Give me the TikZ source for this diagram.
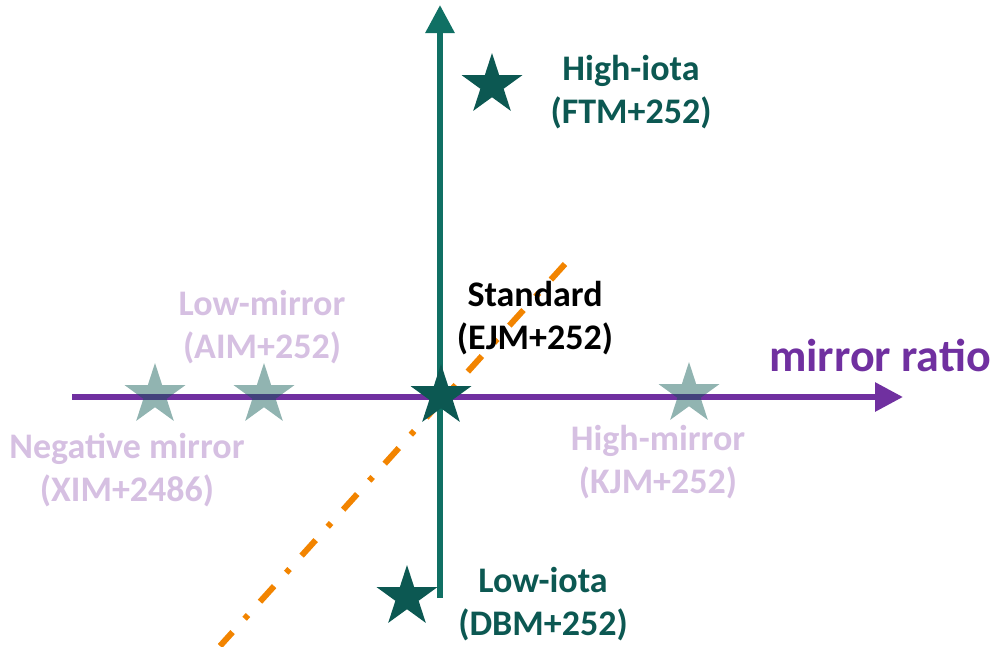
\documentclass[tikz,border=0pt]{standalone}
\usepackage{fontspec}
\setmainfont{Carlito}
\usetikzlibrary{arrows.meta,shapes.geometric}
\definecolor{axisteal}{RGB}{16,112,100}
\definecolor{stardark}{RGB}{12,88,82}
\definecolor{mpurple}{RGB}{112,48,160}
\definecolor{lav}{RGB}{214,192,226}
\definecolor{dorange}{RGB}{242,132,0}
\tikzset{
  mystar/.style={star, star points=5, star point ratio=2.618, minimum size=64pt, inner sep=0pt, draw=none, fill=stardark},
  fadestar/.style={mystar, fill opacity=0.45},
  lbl/.style={font=\bfseries\fontsize{36}{43}\selectfont, align=center, inner sep=0pt},
  axis/.style={line width=6pt, -{Triangle[length=28pt,width=28pt]}},
}
\begin{document}
\begin{tikzpicture}[x=1pt,y=-1pt]
\useasboundingbox (0,0) rectangle (999,646);
% orange dash-dot line
\coordinate (o1) at (565,264);
\coordinate (o2) at (220,646);
\draw[dorange, line width=6pt, dash pattern=on 21pt off 18pt on 5pt off 18pt] (o1) -- (o2);
% axes
\coordinate (v0) at (440,598);
\coordinate (v1) at (440,5);
\coordinate (h0) at (72,397);
\coordinate (h1) at (903,397);
\draw[axis, axisteal] (v0) -- (v1);
\draw[axis, mpurple] (h0) -- (h1);
% faded stars
\node[fadestar] (sneg) at (155,395) {};
\node[fadestar] (slow) at (264,395) {};
\node[fadestar] (shigh) at (689,394) {};
% opaque stars
\node[mystar] (sstd) at (441,396) {};
\node[mystar] (shi) at (492,85) {};
\node[mystar] (sli) at (407,597) {};
% labels
\node[lbl, text=stardark] (thi) at (631,92) {High-iota\\(FTM+252)};
\node[lbl, text=black] (tstd) at (535,318) {Standard\\(EJM+252)};
\node[lbl, text=lav] (tlm) at (262,327) {Low-mirror\\(AIM+252)};
\node[lbl, text=lav] (tneg) at (127,470) {Negative mirror\\(XIM+2486)};
\node[lbl, text=lav] (thm) at (658,462) {High-mirror\\(KJM+252)};
\node[lbl, text=stardark] (tli) at (543,604) {Low-iota\\(DBM+252)};
\node[font=\bfseries\fontsize{46}{50}\selectfont, text=mpurple, inner sep=0pt] (tmr) at (880,355) {mirror ratio};
\end{tikzpicture}
\end{document}
